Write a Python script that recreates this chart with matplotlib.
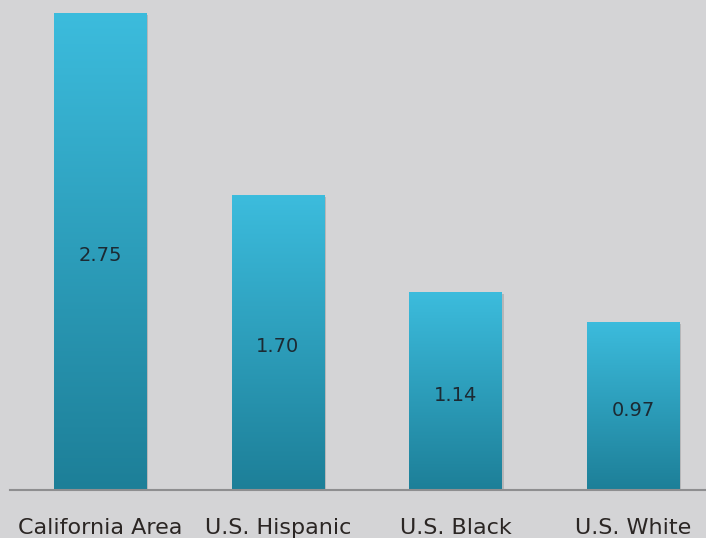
import numpy as np
import matplotlib.pyplot as plt
from matplotlib.colors import LinearSegmentedColormap

categories = ['California Area', 'U.S. Hispanic', 'U.S. Black', 'U.S. White']
values = [2.75, 1.70, 1.14, 0.97]
value_labels = ['2.75', '1.70', '1.14', '0.97']

bg = '#d4d4d6'
grad = LinearSegmentedColormap.from_list('bar', ['#1d7f98', '#3cbcdd'])

fig = plt.figure(figsize=(7.06, 5.38), dpi=100, facecolor=bg)
ax = fig.add_axes([10 / 706, 48 / 538, 696 / 706, 490 / 538])
ax.set_facecolor(bg)

x = np.arange(len(categories))
width = 0.518
ax.set_xlim(-0.5065, 3.41)
ax.set_ylim(0, 2.824)

g = np.linspace(0, 1, 256).reshape(-1, 1)
for xi, v, lab in zip(x, values, value_labels):
    # soft shadow
    ax.bar(xi + 0.012, v, width, bottom=-0.012, color='#9a9a9c', alpha=0.5,
           zorder=1, linewidth=0)
    bar = ax.bar(xi, v, width, color='none', zorder=2, linewidth=0)[0]
    im = ax.imshow(g, cmap=grad, aspect='auto', origin='lower',
                   extent=[xi - width / 2, xi + width / 2, 0, v], zorder=2)
    im.set_clip_path(bar)
    ax.text(xi, v / 2 - 0.025, lab, ha='center', va='center',
            fontsize=14, color='#1c2a33', zorder=3)

ax.set_xlim(-0.5065, 3.41)
ax.set_ylim(0, 2.824)
ax.set_xticks(x)
ax.set_xticklabels(categories, fontsize=16, color='#2b2624')
ax.tick_params(axis='x', length=0, pad=20)
ax.set_yticks([])
for s in ['top', 'right', 'left']:
    ax.spines[s].set_visible(False)
ax.spines['bottom'].set_color('#8e8e90')
ax.spines['bottom'].set_linewidth(1.5)
ax.spines['bottom'].set_zorder(4)

fig.savefig('out.png', dpi=100, facecolor=bg)
